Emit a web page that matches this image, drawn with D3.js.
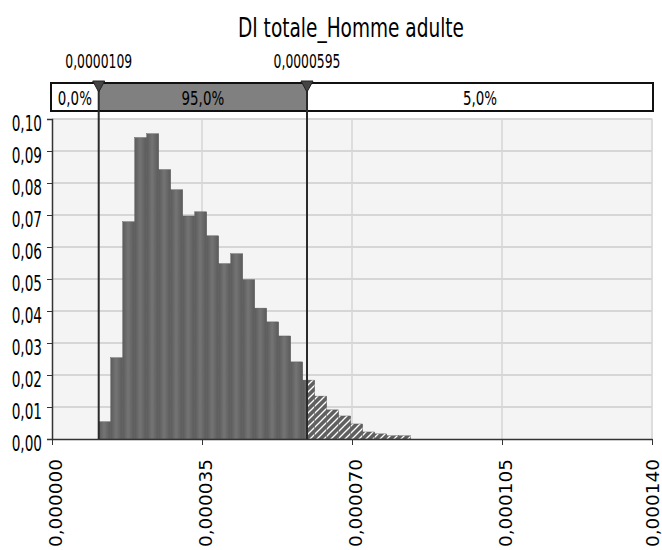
<!DOCTYPE html>
<html><head><meta charset="utf-8">
<script src="https://cdn.jsdelivr.net/npm/d3@7"></script>
<style>
body{margin:0;background:#fff;}
text{font-family:"DejaVu Sans",sans-serif;fill:#000;}
</style></head>
<body><div id="chart"></div>
<script>
const title = "DI totale_Homme adulte";
const binStart = 0.0000109;
const binWidth = 0.0000028;
const probs = [0.0054,0.0254,0.0679,0.0942,0.0954,0.0842,0.0779,0.0697,0.0710,0.0635,0.0548,0.0579,0.0498,0.0409,0.0366,0.0322,0.0241,0.0184,0.0134,0.0091,0.0072,0.0047,0.0022,0.0016,0.0010,0.0010];
const lowerMark = 0.0000109;
const upperMark = 0.0000595;
const bandLabels = ["0,0%","95,0%","5,0%"];
const xTicks = [0,0.000035,0.00007,0.000105,0.00014];
const yTicks = [0,0.01,0.02,0.03,0.04,0.05,0.06,0.07,0.08,0.09,0.10];

const W=662,H=550;
const loc = d3.formatLocale({decimal:",",thousands:" ",grouping:[3],currency:["",""]});
const svg = d3.select("#chart").append("svg").attr("width",W).attr("height",H);
const x = d3.scaleLinear().domain([0,0.00014]).range([52,652]);
const y = d3.scaleLinear().domain([0,0.10]).range([439,119]);

function condense(sel, ratio){
  sel.each(function(){
    const L = this.getComputedTextLength();
    d3.select(this).attr("textLength", L*ratio).attr("lengthAdjust","spacingAndGlyphs");
  });
}

const defs = svg.append("defs");
const grad = defs.append("linearGradient").attr("id","barGrad").attr("x1","0").attr("x2","1").attr("y1","0").attr("y2","0");
grad.append("stop").attr("offset","0%").attr("stop-color","#5c5c5c");
grad.append("stop").attr("offset","45%").attr("stop-color","#747474");
grad.append("stop").attr("offset","100%").attr("stop-color","#5a5a5a");
const pat = defs.append("pattern").attr("id","hatch").attr("patternUnits","userSpaceOnUse").attr("width",7).attr("height",7);
pat.append("rect").attr("width",7).attr("height",7).attr("fill","#606060");
pat.append("path").attr("d","M-1,8 L8,-1 M-2,2 L2,-2 M5,9 L9,5").attr("stroke","#fff").attr("stroke-width",1.3);
defs.append("clipPath").attr("id","clipL").append("rect").attr("x",0).attr("y",0).attr("width",x(upperMark)).attr("height",H);
defs.append("clipPath").attr("id","clipR").append("rect").attr("x",x(upperMark)).attr("y",0).attr("width",W).attr("height",H);

// title
svg.append("text").attr("x",351).attr("y",37).attr("text-anchor","middle").style("font-size","27px")
  .attr("textLength",226).attr("lengthAdjust","spacingAndGlyphs").text(title);

// plot background
svg.append("rect").attr("x",x(0)).attr("y",y(0.10)-1).attr("width",x(0.00014)-x(0)+1).attr("height",y(0)-y(0.10)+1).attr("fill","#f4f4f4");

// grid
svg.append("g").selectAll("line").data(yTicks.slice(1)).join("line")
  .attr("x1",x(0)).attr("x2",x(0.00014)).attr("y1",d=>y(d)).attr("y2",d=>y(d))
  .attr("stroke","#d6d6d6").attr("stroke-width",2);
svg.append("g").selectAll("line").data(xTicks.slice(1)).join("line")
  .attr("x1",d=>x(d)).attr("x2",d=>x(d)).attr("y1",y(0.10)).attr("y2",y(0))
  .attr("stroke","#d6d6d6").attr("stroke-width",1.5);

// bars
const bins = probs.map((p,i)=>({x0:binStart+i*binWidth,x1:binStart+(i+1)*binWidth,p}));
function drawBars(clip, fill){
  svg.append("g").attr("clip-path",`url(#${clip})`).selectAll("rect").data(bins).join("rect")
    .attr("x",d=>x(d.x0)).attr("width",d=>x(d.x1)-x(d.x0))
    .attr("y",d=>y(d.p)).attr("height",d=>y(0)-y(d.p))
    .attr("fill",fill).attr("stroke","#555").attr("stroke-width",0.4);
}
drawBars("clipL","url(#barGrad)");
drawBars("clipR","url(#hatch)");

// axes
const yAxis = svg.append("g").attr("transform",`translate(${x(0)},0)`)
  .call(d3.axisLeft(y).tickValues(yTicks).tickFormat(loc.format(".2f")).tickSize(5).tickPadding(5));
yAxis.select(".domain").attr("stroke","#333").attr("stroke-width",1.5);
yAxis.selectAll(".tick line").attr("stroke","#333");
yAxis.selectAll("text").style("font-size","22px").attr("dy","0.5em").call(condense,0.62);

const xAxis = svg.append("g").attr("transform",`translate(0,${y(0)})`)
  .call(d3.axisBottom(x).tickValues(xTicks).tickFormat(loc.format(".6f")).tickSize(6).tickSizeOuter(0));
xAxis.select(".domain").attr("stroke","#333").attr("stroke-width",1.5);
xAxis.selectAll(".tick line").attr("stroke","#333");
xAxis.selectAll("text").style("font-size","17px")
  .attr("transform","rotate(-90)").attr("text-anchor","end").attr("x",-20)
  .attr("y",(d,i)=> i===xTicks.length-1 ? 0 : 3).attr("dy","0.36em")
  .attr("textLength",88).attr("lengthAdjust","spacingAndGlyphs");

// top band
const bandTop=83, bandBot=111, bx0=51, bx1=653;
const segs=[[bx0,x(lowerMark),"#fff"],[x(lowerMark),x(upperMark),"#808080"],[x(upperMark),bx1,"#fff"]];
svg.append("g").selectAll("rect").data(segs).join("rect")
  .attr("x",d=>d[0]).attr("y",bandTop).attr("width",d=>d[1]-d[0]).attr("height",bandBot-bandTop)
  .attr("fill",d=>d[2]);
svg.append("rect").attr("x",bx0).attr("y",bandTop).attr("width",bx1-bx0).attr("height",bandBot-bandTop)
  .attr("fill","none").attr("stroke","#111").attr("stroke-width",2);
svg.append("g").selectAll("text").data(segs).join("text")
  .attr("x",(d)=>(d[0]+d[1])/2).attr("y",105).attr("text-anchor","middle").style("font-size","20px")
  .text((d,i)=>bandLabels[i]).call(condense,0.67);

// marker lines
const marks=[lowerMark,upperMark];
svg.append("g").selectAll("line").data(marks).join("line")
  .attr("x1",d=>x(d)).attr("x2",d=>x(d)).attr("y1",bandTop).attr("y2",y(0))
  .attr("stroke","#2a2a2a").attr("stroke-width",2);
svg.append("g").selectAll("path").data(marks).join("path")
  .attr("d",d=>`M${x(d)-6},${bandTop-2} L${x(d)+6},${bandTop-2} L${x(d)},${bandTop+9} Z`)
  .attr("fill","#444").attr("stroke","#222").attr("stroke-width",1);
svg.append("g").selectAll("text").data(marks).join("text")
  .attr("x",d=>x(d)).attr("y",68).attr("text-anchor","middle").style("font-size","19px")
  .text(d=>loc.format(".7f")(d)).call(condense,0.65);
</script></body></html>
